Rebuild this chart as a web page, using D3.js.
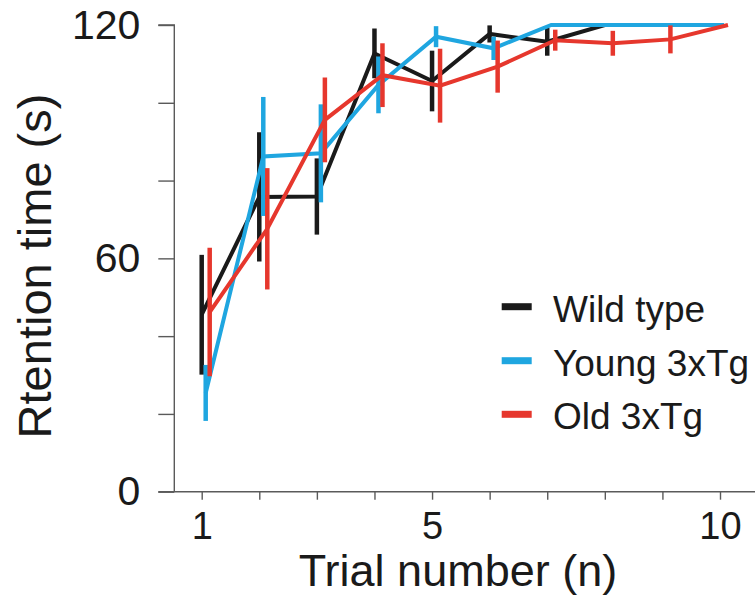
<!DOCTYPE html>
<html>
<head>
<meta charset="utf-8">
<script src="https://cdn.jsdelivr.net/npm/d3@7/dist/d3.min.js"></script>
<style>
  html, body { margin: 0; padding: 0; background: #fff; }
  svg { display: block; font-family: "Liberation Sans", Arial, sans-serif; }
</style>
</head>
<body>
<svg id="chart" width="755" height="608"></svg>
<script>
// Trial numbers
const trials = [1, 2, 3, 4, 5, 6, 7, 8, 9, 10];

// Mean retention time (s) per trial
const wildType   = [45.5, 75.8, 75.9, 112.7, 105.6, 117.7, 115.7, 120, 120, 120];
const young3xTg  = [25.4, 86.2, 87.0, 104.6, 117.0, 114.0, 120, 120, 120, 120];
const old3xTg    = [46.2, 67.6, 95.6, 107.1, 104.4, 109.3, 116.1, 115.3, 116.3, 120];

// Error (SEM) per trial
const wildTypeErr  = [15.4, 16.6, 9.8, 6.4, 7.8, 2.2, 3.6, 0, 0, 0];
const young3xTgErr = [7.2, 15.3, 12.6, 7.3, 2.7, 3.0, 0, 0, 0, 0];
const old3xTgErr   = [16.5, 15.6, 10.9, 8.2, 9.5, 6.7, 2.7, 3.2, 3.6, 0];

// Axis ticks
const yTicks = [0, 20, 40, 60, 80, 100, 120];
const yTickLabels = ["0", "", "", "60", "", "", "120"];
const xTickLabels = ["1", "", "", "", "5", "", "", "", "", "10"];

const seriesNames = ["Wild type", "Young 3xTg", "Old 3xTg"];
const seriesColors = ["#1a1a1a", "#1fa6e0", "#e6372d"];

const series = [
  { name: seriesNames[0], color: seriesColors[0], values: wildType,  errs: wildTypeErr,  shift: 0 },
  { name: seriesNames[1], color: seriesColors[1], values: young3xTg, errs: young3xTgErr, shift: 4 },
  { name: seriesNames[2], color: seriesColors[2], values: old3xTg,   errs: old3xTgErr,   shift: 8 }
];

const svg = d3.select("#chart");

const x = d3.scaleLinear().domain([1, 10]).range([201.7, 720]);
const y = d3.scaleLinear().domain([0, 120]).range([491.7, 25]);

const axisColor = "#5a5a5a";

// Y axis
const yAxis = d3.axisLeft(y)
  .tickValues(yTicks)
  .tickSize(16)
  .tickPadding(18)
  .tickFormat((d, i) => yTickLabels[i]);
const gy = svg.append("g").attr("transform", `translate(${174.3},0)`).call(yAxis);
gy.select(".domain").attr("d", `M-16,${y(120)}H0V${y(0)}`);

// X axis
const xAxis = d3.axisBottom(x)
  .tickValues(trials)
  .tickSize(8)
  .tickPadding(12)
  .tickFormat((d, i) => xTickLabels[i]);
const gx = svg.append("g").attr("transform", `translate(0,${y(0)})`).call(xAxis);
gx.select(".domain").attr("d", `M158.3,0H755`);

[gx, gy].forEach(g => {
  g.selectAll(".domain, .tick line").attr("stroke", axisColor).attr("stroke-width", 1.4);
  g.selectAll(".tick text").attr("fill", "#1a1a1a").attr("font-family", "Liberation Sans, Arial, sans-serif");
});
gy.selectAll(".tick text").attr("font-size", 41);
gx.selectAll(".tick text").attr("font-size", 38);

// Axis titles
svg.append("text")
  .attr("x", 458).attr("y", 586)
  .attr("text-anchor", "middle")
  .attr("font-size", 45)
  .attr("fill", "#1a1a1a")
  .text("Trial number (n)");

svg.append("text")
  .attr("transform", `translate(51,266) rotate(-90)`)
  .attr("text-anchor", "middle")
  .attr("font-size", 47)
  .attr("fill", "#1a1a1a")
  .text("Rtention time (s)");

// Data: error bars then line per series
const line = d3.line()
  .x((d, i) => x(trials[i]) + d.shift)
  .y(d => y(d.v));

series.forEach(s => {
  const g = svg.append("g");
  const pts = s.values.map((v, i) => ({ v, e: s.errs[i], t: trials[i], shift: s.shift }));
  g.selectAll("line.err")
    .data(pts.filter(p => p.e > 0))
    .enter().append("line")
    .attr("class", "err")
    .attr("x1", p => x(p.t) + p.shift)
    .attr("x2", p => x(p.t) + p.shift)
    .attr("y1", p => y(p.v + p.e))
    .attr("y2", p => y(p.v - p.e))
    .attr("stroke", s.color)
    .attr("stroke-width", 4.5);
  g.append("path")
    .datum(pts)
    .attr("d", line)
    .attr("fill", "none")
    .attr("stroke", s.color)
    .attr("stroke-width", 4)
    .attr("stroke-linejoin", "miter");
});

// Legend
const legend = svg.append("g");
const legendY = [306.7, 360.7, 414.3];
series.forEach((s, i) => {
  legend.append("line")
    .attr("x1", 501.7).attr("x2", 531.7)
    .attr("y1", legendY[i]).attr("y2", legendY[i])
    .attr("stroke", s.color)
    .attr("stroke-width", 7);
  legend.append("text")
    .attr("x", 553)
    .attr("y", legendY[i] + 15)
    .attr("font-size", 37)
    .attr("fill", "#1a1a1a")
    .text(s.name);
});
</script>
</body>
</html>
